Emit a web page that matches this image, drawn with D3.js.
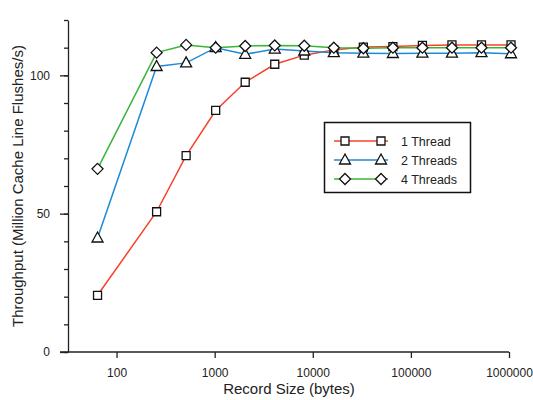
<!DOCTYPE html>
<html>
<head>
<meta charset="utf-8">
<script src="https://cdn.jsdelivr.net/npm/d3@7"></script>
<style>
  body { margin: 0; background: #fff; }
  text { font-family: "Liberation Sans", Arial, Helvetica, sans-serif; fill: #222; }
</style>
</head>
<body>
<script>
'use strict';

// record sizes (bytes)
const sizes = [64, 256, 512, 1024, 2048, 4096, 8192, 16384, 32768, 65536, 131072, 262144, 524288, 1048576]
// throughput, million cache line flushes / s
const oneThread = [20.5, 50.7, 71, 87.3, 97.5, 104, 107.3, 109.2, 110.2, 110.4, 110.8, 111, 111, 111]
const twoThreads = [41.2, 103.2, 104.5, 110, 107.6, 109.5, 108.8, 108.2, 108, 107.9, 108, 108, 108.2, 107.8]
const fourThreads = [66.2, 108.2, 111, 110, 110.6, 110.8, 110.7, 110, 109.8, 110, 110, 110, 110, 110]
const seriesNames = ["1 Thread", "2 Threads", "4 Threads"]
const xTicks = [100, 1000, 10000, 100000, 1000000]
const yTicks = [0, 50, 100]

const m = { width: 533, height: 400, left: 68, right: 509, top: 20, bottom: 352 }

const series = [
  { name: seriesNames[0], values: oneThread, color: "#f8402c", shape: "square" },
  { name: seriesNames[1], values: twoThreads, color: "#1e8ad6", shape: "triangle" },
  { name: seriesNames[2], values: fourThreads, color: "#39b539", shape: "diamond" }
]

const svg = d3.select('body')
  .append('svg')
  .attr('width', m.width)
  .attr('height', m.height)

const x = d3.scaleLog().domain([32, 1000000]).range([m.left, m.right])
const y = d3.scaleLinear().domain([0, 120]).range([m.bottom, m.top])

// x axis
const xAxis = svg.append('g')
  .attr('transform', 'translate(0,' + m.bottom + ')')
  .call(d3.axisBottom(x).tickValues(xTicks).tickFormat(d3.format('d')).tickSize(6).tickSizeOuter(0))
xAxis.select('.domain').attr('d', 'M' + (m.left - 8) + ',0H' + m.right)

// y axis minor ticks
svg.append('g')
  .attr('transform', 'translate(' + m.left + ',0)')
  .call(d3.axisLeft(y).tickValues(d3.range(0, 121, 10)).tickFormat('').tickSize(4).tickSizeOuter(0))
  .select('.domain').remove()

// y axis
svg.append('g')
  .attr('transform', 'translate(' + m.left + ',0)')
  .call(d3.axisLeft(y).tickValues(yTicks).tickSize(8).tickSizeOuter(0).tickPadding(10))

svg.selectAll('.tick text').style('font-size', '12px').style('fill', '#222')
svg.selectAll('.domain, .tick line').attr('stroke', '#222').attr('stroke-width', 1.3)
xAxis.selectAll('.tick text').attr('dy', '1.35em')

// axis labels
svg.append('text')
  .attr('x', 289)
  .attr('y', 394)
  .attr('text-anchor', 'middle')
  .style('font-size', '15px')
  .text('Record Size (bytes)')

svg.append('text')
  .attr('transform', 'translate(23, 186)rotate(-90)')
  .attr('text-anchor', 'middle')
  .style('font-size', '15px')
  .text('Throughput (Million Cache Line Flushes/s)')

function markerPath(shape) {
  if (shape === "square") return 'M-4,-4H4V4H-4Z'
  if (shape === "triangle") return 'M0,-6L5.5,4H-5.5Z'
  return 'M0,-5.5L5.5,0L0,5.5L-5.5,0Z'
}

const line = d3.line()
  .x((d, i) => x(sizes[i]))
  .y(d => y(d))

series.forEach(s => {
  svg.append('path')
    .datum(s.values)
    .attr('fill', 'none')
    .attr('stroke', s.color)
    .attr('stroke-width', 1.5)
    .attr('d', line)
})

series.forEach(s => {
  svg.append('g').selectAll('path')
    .data(s.values)
    .enter()
    .append('path')
      .attr('transform', (d, i) => 'translate(' + x(sizes[i]) + ',' + y(d) + ')')
      .attr('d', markerPath(s.shape))
      .attr('fill', '#fff')
      .attr('stroke', '#111')
      .attr('stroke-width', 1.3)
})

// legend
const legend = svg.append('g')
legend.append('rect')
  .attr('x', 324.5)
  .attr('y', 122.5)
  .attr('width', 146)
  .attr('height', 70)
  .attr('fill', '#fff')
  .attr('stroke', '#111')
  .attr('stroke-width', 1.5)

series.forEach((s, i) => {
  const ly = 141 + i * 19
  legend.append('line')
    .attr('x1', 334).attr('x2', 388)
    .attr('y1', ly).attr('y2', ly)
    .attr('stroke', s.color)
    .attr('stroke-width', 1.5)
  ;[345, 381].forEach(mx => {
    legend.append('path')
      .attr('transform', 'translate(' + mx + ',' + ly + ')')
      .attr('d', markerPath(s.shape))
      .attr('fill', '#fff')
      .attr('stroke', '#111')
      .attr('stroke-width', 1.3)
  })
  legend.append('text')
    .attr('x', 401)
    .attr('y', ly + 4.5)
    .style('font-size', '12.5px')
    .text(s.name)
})
</script>
</body>
</html>
